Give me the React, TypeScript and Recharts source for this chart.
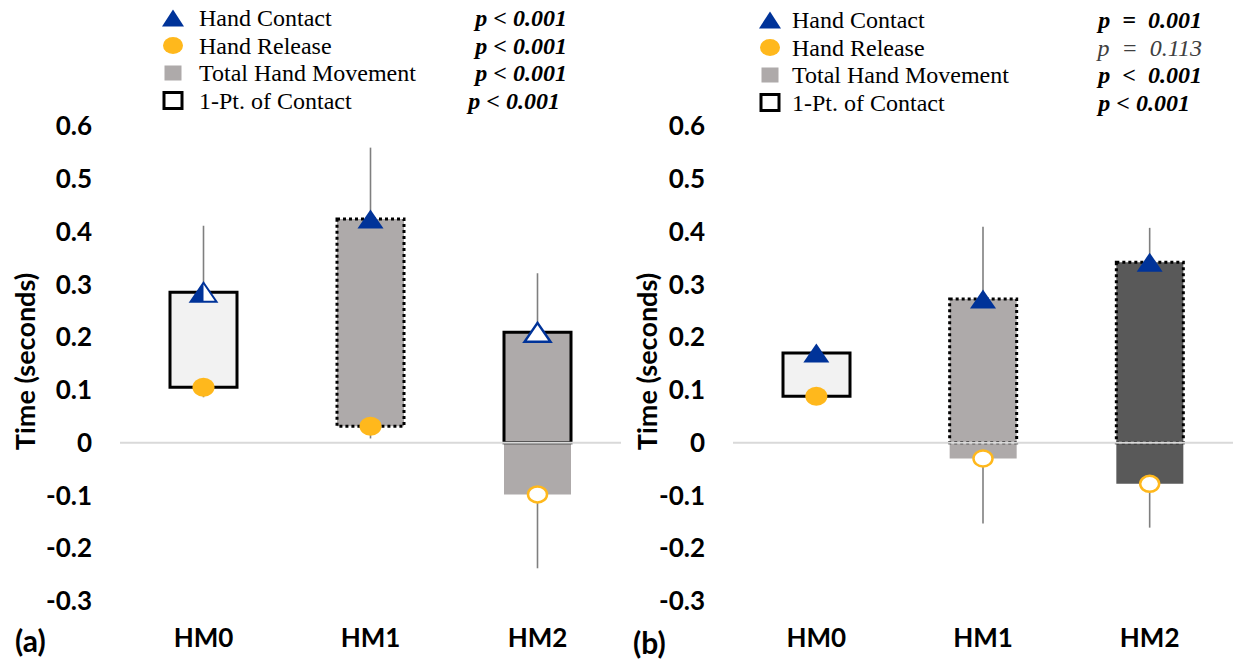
import React from 'react';
import { ComposedChart, Bar, Line, XAxis, YAxis, ReferenceLine, ErrorBar, Cell, Legend, Label } from 'recharts';

const categories = ['HM0', 'HM1', 'HM2'];
const yTicks = [-0.3, -0.2, -0.1, 0, 0.1, 0.2, 0.3, 0.4, 0.5, 0.6];

// panel (a)
const contactA = [0.285, 0.424, 0.209];
const releaseA = [0.105, 0.031, -0.098];
const errTopA = [0.411, 0.559, 0.321];
const errBottomA = [0.086, 0.008, -0.238];

// panel (b)
const contactB = [0.17, 0.272, 0.342];
const releaseB = [0.088, -0.03, -0.078];
const errTopB = [0.17, 0.409, 0.407];
const errBottomB = [0.088, -0.153, -0.161];

const legendNames = ['Hand Contact', 'Hand Release', 'Total Hand Movement', '1-Pt. of Contact'];
const pValuesA = ['p < 0.001', 'p < 0.001', 'p < 0.001', 'p < 0.001'];
const pValuesB = ['p  =  0.001', 'p  =  0.113', 'p  <  0.001', 'p < 0.001'];
const pBoldA = [true, true, true, true];
const pBoldB = [true, false, true, true];

const BLUE = '#003399';
const GOLD = '#FFB81C';
const ERR = '#7F7F7F';
const FONT = 'Lato, "Open Sans", sans-serif';
const SERIF = '"Liberation Serif", "DejaVu Serif", serif';

const styleA = {
  fills: ['#F2F2F2', '#AEAAAA', '#AEAAAA'],
  dotted: [false, true, false],
  contactMarks: ['half', 'filled', 'hollow'],
  releaseMarks: ['filled', 'filled', 'hollow'],
};
const styleB = {
  fills: ['#F2F2F2', '#AEAAAA', '#595959'],
  dotted: [false, true, true],
  contactMarks: ['filled', 'filled', 'filled'],
  releaseMarks: ['filled', 'hollow', 'hollow'],
};

const buildRows = (contact: number[], release: number[], top: number[], bottom: number[]) =>
  categories.map((name, i) => ({
    name,
    box: [Math.max(release[i], 0), contact[i]],
    ext: release[i] < 0 ? [release[i], 0] : null,
    contact: contact[i],
    release: release[i],
    errUp: [0, top[i] - contact[i]],
    errDown: [release[i] - bottom[i], 0],
  }));

const rowsA = buildRows(contactA, releaseA, errTopA, errBottomA);
const rowsB = buildRows(contactB, releaseB, errTopB, errBottomB);

const Triangle = ({ cx, cy, kind, w = 26, h = 19 }: any) => {
  const pts = `${cx - w / 2},${cy + h / 2} ${cx},${cy - h / 2} ${cx + w / 2},${cy + h / 2}`;
  if (kind === 'hollow') {
    return <polygon points={pts} fill="#fff" stroke={BLUE} strokeWidth={2.5} strokeLinejoin="miter" />;
  }
  if (kind === 'half') {
    return (
      <g>
        <polygon points={pts} fill="#fff" stroke={BLUE} strokeWidth={2} />
        <polygon points={`${cx - w / 2},${cy + h / 2} ${cx},${cy - h / 2} ${cx},${cy + h / 2}`} fill={BLUE} />
      </g>
    );
  }
  return <polygon points={pts} fill={BLUE} />;
};

const Dot = ({ cx, cy, kind, rx = 11, ry = 9.5 }: any) => {
  if (kind === 'hollow') {
    return <ellipse cx={cx} cy={cy} rx={rx - 1.5} ry={ry - 1.5} fill="#fff" stroke={GOLD} strokeWidth={2.5} />;
  }
  return <ellipse cx={cx} cy={cy} rx={rx} ry={ry} fill={GOLD} />;
};

const LegendBlock = ({ pos, pValues, pBold }: any) => (
  <svg width={470} height={120} style={{ display: 'block', overflow: 'visible' }}>
    {legendNames.map((name, i) => {
      const base = pos.base0 + i * 27.5;
      const iy = base - 8;
      let icon;
      if (i === 0) icon = <Triangle cx={pos.iconX} cy={iy} kind="filled" w={22} h={17} />;
      else if (i === 1) icon = <Dot cx={pos.iconX} cy={iy} kind="filled" rx={10} ry={8.5} />;
      else if (i === 2) icon = <rect x={pos.iconX - 8.5} y={iy - 7.5} width={17} height={15} fill="#AEAAAA" />;
      else icon = <rect x={pos.iconX - 9} y={iy - 8} width={18} height={16} fill="#fff" stroke="#000" strokeWidth={3} />;
      return (
        <g key={name}>
          {icon}
          <text x={pos.textX} y={base} fontFamily={SERIF} fontSize={24} fill="#000">{name}</text>
          <text
            x={pos.pRight[i]}
            y={base}
            textAnchor="end"
            fontFamily={SERIF}
            fontSize={24}
            fontStyle="italic"
            fontWeight={pBold[i] ? 'bold' : 'normal'}
            fill={pBold[i] ? '#000' : '#404040'}
            style={{ whiteSpace: 'pre' }}
          >
            {pValues[i]}
          </text>
        </g>
      );
    })}
  </svg>
);

const tickStyle = { fontFamily: FONT, fontWeight: 700, fontSize: 26, fill: '#000' };

const Panel = ({ rows, look, width, yWidth, legendLeft, legendPos, pValues, pBold, labelX }: any) => (
  <ComposedChart width={width} height={662} data={rows} margin={{ top: 126, right: 0, bottom: 0, left: 0 }}>
    <XAxis xAxisId="main" dataKey="name" axisLine={false} tickLine={false} tickMargin={22} height={61} tick={tickStyle} interval={0} />
    <XAxis xAxisId="ext" dataKey="name" hide height={0} />
    <YAxis
      domain={[-0.3, 0.6]}
      ticks={yTicks}
      axisLine={false}
      tickLine={false}
      width={yWidth}
      tickMargin={22}
      tick={tickStyle}
      tickFormatter={(v: number) => String(v)}
    >
      <Label
        content={(p: any) => {
          const cy = p.viewBox.y + p.viewBox.height / 2 - 2;
          return (
            <text
              x={labelX}
              y={cy}
              transform={`rotate(-90, ${labelX}, ${cy})`}
              textAnchor="middle"
              dominantBaseline="central"
              fontFamily={FONT}
              fontWeight={700}
              fontSize={27}
              fill="#000"
            >
              Time (seconds)
            </text>
          );
        }}
      />
    </YAxis>
    <ReferenceLine xAxisId="main" y={0} stroke="#D9D9D9" strokeWidth={2} />
    <Bar xAxisId="ext" dataKey="ext" barSize={67} isAnimationActive={false} legendType="none">
      {rows.map((r: any, i: number) => (
        <Cell key={r.name} fill={look.fills[i]} />
      ))}
    </Bar>
    <Bar xAxisId="main" dataKey="box" barSize={67} isAnimationActive={false}>
      {rows.map((r: any, i: number) => (
        <Cell
          key={r.name}
          fill={look.fills[i]}
          stroke="#000"
          strokeWidth={3}
          strokeDasharray={look.dotted[i] ? '3 3' : undefined}
        />
      ))}
    </Bar>
    <Line
      xAxisId="main"
      dataKey="release"
      stroke="none"
      isAnimationActive={false}
      activeDot={false}
      dot={(p: any) => <Dot key={`r${p.index}`} cx={p.cx} cy={p.cy} kind={look.releaseMarks[p.index]} />}
    >
      <ErrorBar dataKey="errDown" direction="y" width={0} stroke={ERR} strokeWidth={1.6} />
    </Line>
    <Line
      xAxisId="main"
      dataKey="contact"
      stroke="none"
      isAnimationActive={false}
      activeDot={false}
      dot={(p: any) => <Triangle key={`c${p.index}`} cx={p.cx} cy={p.cy} kind={look.contactMarks[p.index]} />}
    >
      <ErrorBar dataKey="errUp" direction="y" width={0} stroke={ERR} strokeWidth={1.6} />
    </Line>
    <Legend
      layout="vertical"
      align="center"
      verticalAlign="middle"
      wrapperStyle={{ left: legendLeft, top: 0, width: 470, height: 120 }}
      content={() => <LegendBlock pos={legendPos} pValues={pValues} pBold={pBold} />}
    />
  </ComposedChart>
);

export default function App() {
  return (
    <div style={{ position: 'absolute', left: 0, top: 0, width: 1233, height: 662, background: '#fff', overflow: 'hidden' }}>
      <div style={{ position: 'absolute', left: 0, top: 0 }}>
        <Panel
          rows={rowsA}
          look={styleA}
          width={621}
          yWidth={120}
          legendLeft={150}
          legendPos={{ iconX: 23, textX: 49, base0: 26, pRight: [417, 417, 417, 410] }}
          pValues={pValuesA}
          pBold={pBoldA}
          labelX={24}
        />
      </div>
      <div style={{ position: 'absolute', left: 615, top: 0 }}>
        <Panel
          rows={rowsB}
          look={styleB}
          width={618}
          yWidth={118}
          legendLeft={135}
          legendPos={{ iconX: 20, textX: 42, base0: 28, pRight: [452, 452, 452, 440] }}
          pValues={pValuesB}
          pBold={pBoldB}
          labelX={31}
        />
      </div>
      <svg width={1233} height={662} style={{ position: 'absolute', left: 0, top: 0, pointerEvents: 'none' }}>
        <text x={15} y={652} fontFamily={FONT} fontWeight={700} fontSize={30} fill="#000">(a)</text>
        <text x={633} y={654} fontFamily={FONT} fontWeight={700} fontSize={30} fill="#000">(b)</text>
      </svg>
    </div>
  );
}
